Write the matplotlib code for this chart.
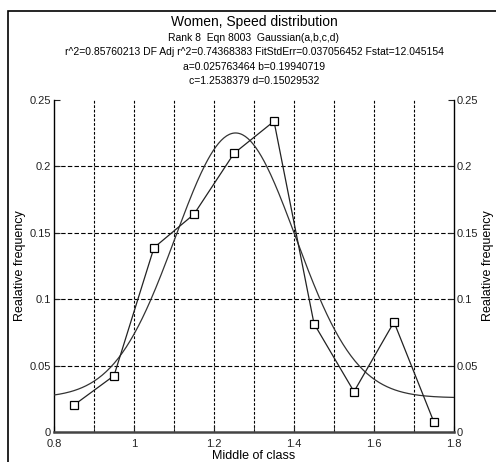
import numpy as np
import matplotlib
matplotlib.use("Agg")
import matplotlib.pyplot as plt
from matplotlib.patches import Rectangle

# ── Data ────────────────────────────────────────────────────────────────────
class_mid = [0.85, 0.95, 1.05, 1.15, 1.25, 1.35, 1.45, 1.55, 1.65, 1.75]
rel_freq = [0.0203, 0.0424, 0.1388, 0.1640, 0.2098, 0.2340, 0.0816, 0.0304, 0.0828, 0.0073]

# fitted Gaussian(a,b,c,d) parameters as printed on the chart
fit_a = 0.025763464
fit_b = 0.19940719
fit_c = 1.2538379
fit_d = 0.15029532

title = "Women, Speed distribution"
sub_lines = [
    "Rank 8  Eqn 8003  Gaussian(a,b,c,d)",
    "r^2=0.85760213 DF Adj r^2=0.74368383 FitStdErr=0.037056452 Fstat=12.045154",
    "a=0.025763464 b=0.19940719",
    "c=1.2538379 d=0.15029532",
]
x_ticks = [0.8, 1.0, 1.2, 1.4, 1.6, 1.8]
x_tick_labels = ["0.8", "1", "1.2", "1.4", "1.6", "1.8"]
y_ticks = [0, 0.05, 0.1, 0.15, 0.2, 0.25]
y_tick_labels = ["0", "0.05", "0.1", "0.15", "0.2", "0.25"]

plt.rcParams["font.family"] = "Liberation Sans"

W, H = 496, 462
fig = plt.figure(figsize=(W / 100, H / 100), dpi=100)
ax = fig.add_axes([54 / W, 1 - 432 / H, 400 / W, 332 / H])

# outer frame (right and bottom edges fall outside the picture)
fig.patches.append(Rectangle((8 / W, -0.1), 1.2, 1 - 11 / H + 0.1,
                             transform=fig.transFigure, fill=False,
                             edgecolor="black", lw=1.2))

# grid
for gx in np.arange(0.9, 1.75, 0.1):
    ax.axvline(gx, color="black", lw=0.8, ls=(0, (2.5, 1.5)), zorder=1)
for gy in [0.05, 0.1, 0.15, 0.2]:
    ax.axhline(gy, color="black", lw=0.8, ls=(0, (4, 2)), zorder=1)

# fitted curve
xs = np.linspace(0.8, 1.8, 300)
ys = fit_a + fit_b * np.exp(-0.5 * ((xs - fit_c) / fit_d) ** 2)
ax.plot(xs, ys, color="#333333", lw=0.9, zorder=3)

# data
ax.plot(class_mid, rel_freq, color="#222222", lw=0.9, marker="s", ms=5.5,
        mfc="white", mec="black", mew=0.9, zorder=4)

ax.set_xlim(0.8, 1.8)
ax.set_ylim(0, 0.25)
ax.set_xticks(x_ticks)
ax.set_xticklabels(x_tick_labels)
ax.set_xticks(np.arange(0.9, 1.75, 0.2), minor=True)
ax.set_yticks(y_ticks)
ax.set_yticklabels(y_tick_labels)
ax.tick_params(axis="both", which="both", direction="in", length=4,
               labelsize=8, colors="#222222", pad=2)
ax.tick_params(axis="x", pad=5)
ax.tick_params(axis="y", right=True, labelright=True)
ax.spines["top"].set_visible(False)
ax.spines["bottom"].set_linewidth(1.8)
ax.spines["bottom"].set_color("#444444")
ax.spines["left"].set_linewidth(1.0)
ax.spines["right"].set_linewidth(1.0)

ax.set_xlabel("Middle of class", fontsize=9, labelpad=1)
for lx in (20, 488):
    fig.text(lx / W, 1 - 266 / H, "Realative frequency", rotation=90,
             ha="center", va="center", fontsize=9)

fig.text(254 / W, 1 - 22 / H, title, ha="center", va="center", fontsize=10)
for i, line in enumerate(sub_lines):
    fig.text(254 / W, 1 - (38 + 14.3 * i) / H, line, ha="center", va="center",
             fontsize=7.5)

fig.savefig("out.png", dpi=100)
